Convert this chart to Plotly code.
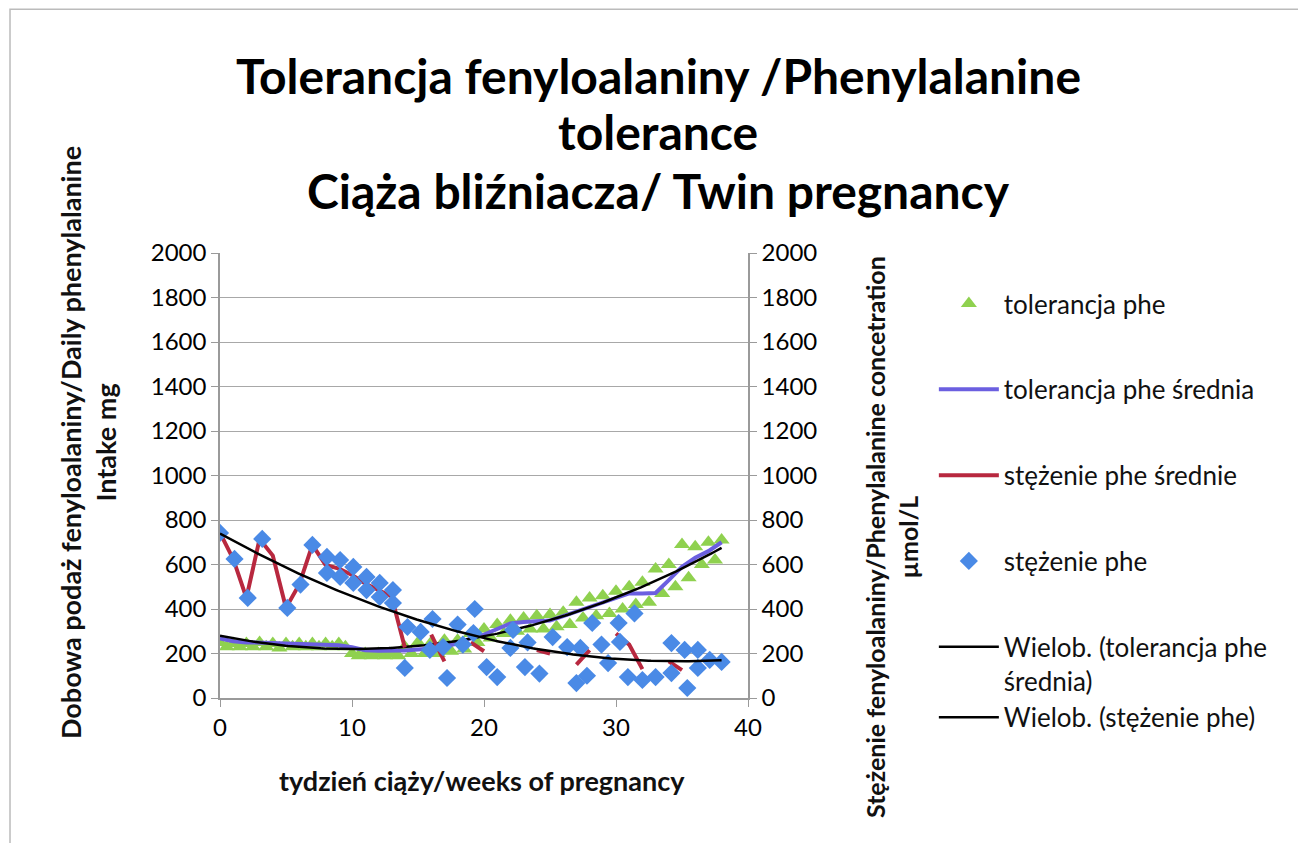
import numpy as np
import plotly.graph_objects as go

# --- data -------------------------------------------------------------
# tolerancja phe (triangles, mg) - two readings per week
tol_x = [0, 0.5, 1, 1.5, 2, 2.5, 3, 3.5, 4, 4.5, 5, 5.5, 6, 6.5, 7, 7.5, 8, 8.5, 9, 9.5,
         10, 10.5, 11, 11.5, 12, 12.5, 13, 13.5, 14, 14.5, 15, 15.5, 16, 16.5, 17, 17.5,
         18, 18.5, 19, 19.5, 20, 20.5, 21, 21.5, 22, 22.5, 23, 23.5, 24, 24.5, 25, 25.5,
         26, 26.5, 27, 27.5, 28, 28.5, 29, 29.5, 30, 30.5, 31, 31.5, 32, 32.5, 33, 33.5,
         34, 34.5, 35, 35.5, 36, 36.5, 37, 37.5, 38]
tol_y = [250, 230, 245, 230, 245, 230, 250, 230, 245, 225, 245, 230, 245, 230, 245, 230, 245, 230, 245, 230,
         200, 190, 200, 190, 200, 190, 200, 190, 230, 200, 250, 200, 250, 200, 260, 210,
         260, 220, 290, 250, 310, 270, 330, 290, 350, 300, 360, 310, 370, 310, 375, 320,
         385, 330, 430, 360, 450, 370, 460, 380, 480, 400, 500, 420, 520, 430, 580, 470,
         600, 500, 690, 540, 680, 600, 700, 620, 710]

# tolerancja phe srednia (weekly mean, mg)
week = list(range(0, 39))
tol_mean = [268, 255, 250, 250, 247, 245, 243, 240, 238, 237, 228, 215, 212, 212, 214, 218, 222, 232, 245,
            268, 285, 310, 335, 342, 345, 348, 368, 388, 408, 428, 450, 470, 470, 472, 530, 590, 630, 660, 700]

# stezenie phe srednie (weekly mean, umol/L; None = no value that week)
conc_mean = [742, 625, 450, 715, 640, 405, 510, 688, 598, 582, 553, 515, 485, 456, 227, None, 285, 165, None,
             250, 210, None, None, None, 215, 200, None, 150, 215, None, 290, 240, 130, None, 165, 125,
             None, None, None]

# stezenie phe (diamonds, umol/L)
conc_x = [0, 1.1, 2.1, 3.2, 5.1, 6.1, 7.0, 8.1, 8.1, 9.1, 9.1, 10.1, 10.1, 11.1, 11.1, 12.1, 12.1, 13.1, 13.1,
          14.2, 14.0, 15.2, 15.9, 16.1, 16.9, 17.2, 18.0, 18.4, 19.3, 19.2, 20.2, 21.0, 22.0, 22.2, 23.1, 23.3,
          24.2, 25.2, 26.3, 27.0, 27.3, 27.8, 28.2, 28.9, 29.4, 30.2, 30.3, 30.9, 31.4, 32.0, 33.0, 34.2, 34.2,
          35.2, 35.4, 36.2, 36.2, 37.1, 38.0]
conc_y = [742, 625, 450, 715, 405, 510, 688, 634, 562, 620, 544, 589, 517, 544, 485, 517, 454, 485, 427,
          319, 135, 297, 216, 355, 229, 90, 330, 240, 400, 292, 139, 94, 225, 306, 139, 250,
          110, 274, 229, 67, 225, 100, 337, 240, 157, 337, 252, 94, 380, 81, 94, 247, 112,
          216, 45, 216, 135, 171, 162]

x_ticks = [0, 10, 20, 30, 40]
y_ticks = list(range(0, 2001, 200))

# polynomial (order 2) trendlines, Excel "Wielob."
xs = np.linspace(0, 38, 200)
tol_fit = np.polyval(np.polyfit(week, tol_mean, 2), xs)
conc_fit = np.polyval(np.polyfit(conc_x, conc_y, 2), xs)

FONT = "Lato"
fig = go.Figure()

fig.add_trace(go.Scatter(x=tol_x, y=tol_y, mode="markers", name="tolerancja phe",
                         marker=dict(symbol="triangle-up", size=14, color="#8FD14F"),
                         legendgroup="a", yaxis="y"))
fig.add_trace(go.Scatter(x=week, y=tol_mean, mode="lines", name="tolerancja phe średnia",
                         line=dict(color="#6B5FE0", width=4), legendgroup="b", yaxis="y"))
fig.add_trace(go.Scatter(x=week, y=conc_mean, mode="lines", name="stężenie phe średnie",
                         line=dict(color="#B8283F", width=4), legendgroup="c", yaxis="y2",
                         connectgaps=False))
fig.add_trace(go.Scatter(x=conc_x, y=conc_y, mode="markers", name="stężenie phe",
                         marker=dict(symbol="diamond", size=14, color="#4A8AE6"),
                         legendgroup="d", yaxis="y2"))
fig.add_trace(go.Scatter(x=xs, y=tol_fit, mode="lines", name="Wielob. (tolerancja phe<br>średnia)",
                         line=dict(color="#000000", width=2.5), legendgroup="e", yaxis="y"))
fig.add_trace(go.Scatter(x=xs, y=conc_fit, mode="lines", name="Wielob. (stężenie phe)",
                         line=dict(color="#000000", width=2.5), legendgroup="e", yaxis="y2"))

axis_common = dict(range=[0, 2000], tickvals=y_ticks, ticks="outside", ticklen=7,
                   tickcolor="#9A9A9A", showline=True, linecolor="#9A9A9A", linewidth=1.5,
                   tickfont=dict(family=FONT, size=24, color="#000000"), zeroline=False)

# page body has an 8px margin: compensate so the plot area sits at page px 220..748 / 253..698
fig.update_layout(
    width=1298, height=835,
    paper_bgcolor="white", plot_bgcolor="white",
    margin=dict(l=212, r=558, t=245, b=145),
    showlegend=True,
    xaxis=dict(range=[0, 40], tickvals=x_ticks, ticks="outside", ticklen=7, tickcolor="#9A9A9A",
               showline=True, linecolor="#9A9A9A", linewidth=1.5, showgrid=False, zeroline=False,
               tickfont=dict(family=FONT, size=24, color="#000000")),
    yaxis=dict(**axis_common, showgrid=True, gridcolor="#A8A8A8", gridwidth=1.2),
    yaxis2=dict(**axis_common, overlaying="y", side="right", showgrid=False),
    legend=dict(x=1.352, y=0.939, xanchor="left", yanchor="top", traceorder="grouped",
                tracegroupgap=49, itemwidth=60, maxheight=900, valign="top",
                font=dict(family=FONT, size=26, color="#111111"), bgcolor="rgba(0,0,0,0)"),
    shapes=[dict(type="rect", xref="paper", yref="paper", x0=-0.3977, x1=2.049, y0=-0.36, y1=1.548,
                 line=dict(color="#BBBBBB", width=1.5), layer="below")],
)

title_lines = [("Tolerancja fenyloalaniny /Phenylalanine", (698 - 75) / 445),
               ("tolerance", (698 - 132) / 445),
               ("Ciąża bliźniacza/ Twin pregnancy", (698 - 190) / 445)]
for txt, yy in title_lines:
    fig.add_annotation(text="<b>" + txt + "</b>", xref="paper", yref="paper", x=(658 - 220) / 528, y=yy,
                       showarrow=False, xanchor="center", yanchor="middle",
                       font=dict(family=FONT, size=48, color="#000000"))

# axis titles
fig.add_annotation(text="<b>tydzień ciąży/weeks of pregnancy</b>", xref="paper", yref="paper",
                   x=(482 - 220) / 528, y=(698 - 780) / 445, showarrow=False,
                   xanchor="center", yanchor="middle", font=dict(family=FONT, size=27, color="#111111"))
fig.add_annotation(text="<b>Dobowa podaż fenyloalaniny/Daily phenylalanine<br>Intake mg</b>",
                   xref="paper", yref="paper", x=(88 - 220) / 528, y=(698 - 443) / 445,
                   showarrow=False, textangle=-90, xanchor="center", yanchor="middle",
                   font=dict(family=FONT, size=27, color="#111111"))
fig.add_annotation(text="<b>Stężenie fenyloalaniny/Phenylalanine concetration<br>µmol/L</b>",
                   xref="paper", yref="paper", x=(891 - 220) / 528, y=(698 - 537) / 445,
                   showarrow=False, textangle=-90, xanchor="center", yanchor="middle",
                   font=dict(family=FONT, size=25, color="#111111"))

fig.write_html("out.html")
